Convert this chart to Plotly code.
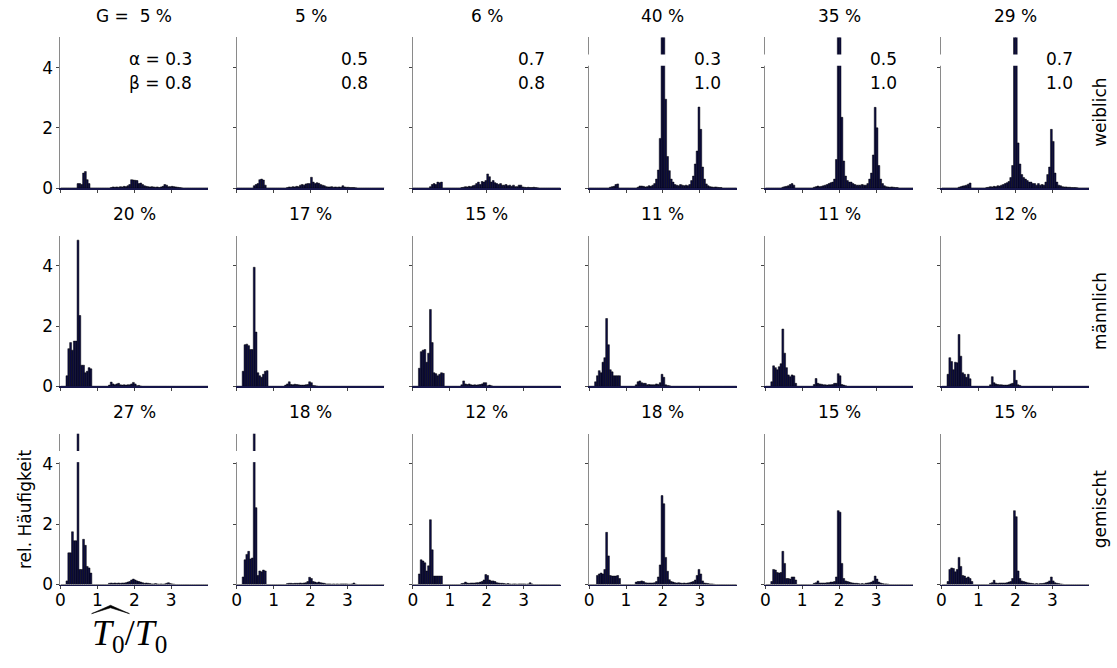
import plotly.graph_objects as go

W, H = 1117, 668

# ---------------- data ----------------
BIN_WIDTH = 0.05
BIN_LEFT = [round(0.05 * k, 2) for k in range(80)]   # histogram bin left edges, 0 ... 3.95

ROW_LABELS = ["weiblich", "männlich", "gemischt"]
ALPHA = ["0.3", "0.5", "0.7", "0.3", "0.5", "0.7"]
BETA = ["0.8", "0.8", "0.8", "1.0", "1.0", "1.0"]
G_PERCENT = [[5, 5, 6, 40, 35, 29],
             [20, 17, 15, 11, 11, 12],
             [27, 18, 12, 18, 15, 15]]
X_TICKS = [0, 1, 2, 3]
Y_TICKS = [0, 2, 4]
OVERFLOW = 8  # bars that leave the plotted range (axis break)

weib_a03_b08 = ([0]*9 + [.15, .15, .12, .5, .55, .28, .15] + [0]*4 +
                [0]*7 + [.02, .04, .03, .04, .03, .05, .04, .06, .05, .08, .12, .28, .27] +
                [.26, .25, .15, .17, .12, .08, .06, .05, .04, .05, .04, .03, .04, .02, .04, .06, .12, .1, .05, .05] +
                [.06, .05, .04, .03, .02, .01] + [0]*14)
weib_a05_b08 = ([0]*9 + [.08, .12, .15, .28, .3, .27, .1] + [0]*4 +
                [0]*7 + [.02, .04, .03, .05, .04, .06, .05, .1, .12, .1, .14, .15, .15] +
                [.36, .2, .15, .18, .16, .12, .1, .08, .05, .04, .04, .05, .03, .04, .03, .04, .03, .08, .04, .03] +
                [.03, .02, .02, .02, .01] + [0]*15)
weib_a07_b08 = ([0]*9 + [.05, .12, .15, .12, .2, .18, .2] + [0]*4 +
                [0]*6 + [.02, .03, .05, .04, .06, .05, .08, .1, .15, .2, .12, .22, .2, .25] +
                [.47, .38, .2, .25, .18, .15, .12, .15, .1, .1, .12, .08, .1, .06, .1, .05, .05, .1, .1, .04] +
                [.03, .02, .03, .02, .02, .03, .02, .01] + [0]*12)
weib_a03_b10 = ([0]*11 + [.03, .05, .06, .12, .14] + [0]*4 +
                [0]*6 + [.03, .07, .07, .06, .04, .05, .08, .06, .1, .15, .3, .6, 1.65, OVERFLOW] +
                [OVERFLOW, 2.95, 1.05, .58, .3, .2, .12, .1, .08, .12, .1, .08, .1, .08, .12, .25, .4, .8, 1.23, 2.69] +
                [1.95, .7, .3, .14, .08, .05, .04, .03, .04, .03, .02, .02] + [0]*8)
weib_a05_b10 = ([0]*9 + [.03, .05, .06, .08, .12, .15, .1] + [0]*4 +
                [0]*6 + [.03, .05, .07, .05, .06, .08, .1, .12, .15, .18, .2, .3, .95, OVERFLOW] +
                [OVERFLOW, 2.35, .9, .4, .25, .2, .2, .15, .12, .1, .1, .1, .12, .1, .1, .15, .3, .5, 1.1, 2.68] +
                [2.0, .75, .3, .15, .08, .05, .04, .03, .04, .03, .02, .02] + [0]*8)
weib_a07_b10 = ([0]*9 + [.03, .05, .07, .08, .1, .13, .17] + [0]*4 +
                [0]*4 + [.02, .03, .05, .04, .06, .05, .08, .07, .1, .12, .15, .18, .22, .35, .75, OVERFLOW] +
                [OVERFLOW, 1.5, .8, .45, .35, .3, .25, .2, .2, .15, .15, .1, .15, .1, .12, .1, .2, .45, .7, 1.95] +
                [1.55, .5, .2, .1, .08, .05, .04, .04, .03, .03, .02, .02, .02, .01] + [0]*6)

maen_a03_b08 = ([0]*3 + [.35, 1.25, 1.45, 1.2, 1.5, 1.5, 4.85, 2.35, .7, .7, .45, .5, .62, .58] + [0]*3 +
                [0]*6 + [.04, .14, .08, .05, .08, .1, .05, .04, .05, .04, .05, .05, .08, .13] +
                [.08, .02, .03, .01] + [0]*16 +
                [0]*20)
maen_a05_b08 = ([0]*3 + [.5, 1.38, 1.4, 1.35, 1.22, 1.22, 3.95, 1.8, .45, .35, .3, .4, .5, .52] + [0]*3 +
                [0]*6 + [.04, .08, .15, .06, .05, .07, .06, .05, .04, .04, .04, .05, .06, .15] +
                [.12, .03, .02, .01] + [0]*16 +
                [0]*20)
maen_a07_b08 = ([0]*3 + [.6, 1.15, 1.2, 1.22, .8, 1.1, 2.55, 1.45, .45, .42, .35, .4, .45, .43] + [0]*3 +
                [0]*6 + [.05, .18, .08, .06, .08, .05, .04, .05, .04, .05, .06, .08, .12, .12] +
                [.02, .04, .02] + [0]*17 +
                [0]*20)
maen_a03_b10 = ([0]*3 + [.15, .35, .52, .45, .8, .95, 2.25, 1.38, .55, .48, .35, .35, .35, .35] + [0]*3 +
                [0]*5 + [.05, .15, .18, .12, .1, .1, .05, .06, .05, .05, .05, .08, .06, .12, .4] +
                [.3, .05, .03, .02] + [0]*16 +
                [0]*20)
maen_a05_b10 = ([0]*3 + [.15, .68, .62, .55, .65, .75, 1.9, 1.1, .62, .38, .32, .38, .35, .1] + [0]*3 +
                [0]*6 + [.06, .26, .1, .08, .07, .05, .05, .04, .05, .05, .06, .1, .1, .42] +
                [.35, .06, .04, .02] + [0]*16 +
                [0]*20)
maen_a07_b10 = ([0]*3 + [.4, .95, .82, .55, .8, .78, 1.72, 1.0, .45, .4, .3, .4, .25] + [0]*4 +
                [0]*6 + [.05, .32, .12, .08, .06, .05, .05, .04, .04, .04, .05, .08, .1, .53] +
                [.2, .05, .03] + [0]*17 +
                [0]*20)

gem_a03_b08 = ([0]*3 + [.12, 1.05, 1.05, 1.75, 1.45, 1.45, OVERFLOW, .5, .5, 1.5, 1.3, .6, .55, .38] + [0]*3 +
               [0]*6 + [.04, .05, .04, .05, .04, .05, .04, .05, .05, .06, .08, .1, .15, .18] +
               [.15, .12, .1, .08, .06, .04, .05, .04, .03, .02, .02, .03, .02, .01, .02, .01, .02, .04, .06, .03] +
               [.02, .01] + [0]*18)
gem_a05_b08 = ([0]*3 + [.25, .82, 1.0, 1.1, .85, .88, OVERFLOW, 2.55, .3, .45, .42, .48, .45] + [0]*4 +
               [0]*7 + [.03, .04, .04, .03, .04, .04, .04, .05, .04, .05, .06, .1, .24] +
               [.2, .1, .08, .06, .08, .06, .05, .04, .02, .02, .02, .01, .02, .01, .02, .01, .02, .02, .02, .02] +
               [.01, .01, .02, .05, .01] + [0]*15)
gem_a07_b08 = ([0]*3 + [.35, .82, .78, .72, .45, .62, 2.15, 1.15, .28, .28, .28, .28, .28] + [0]*4 +
               [0]*6 + [.03, .04, .08, .05, .04, .05, .05, .05, .06, .06, .08, .1, .15, .33] +
               [.3, .15, .12, .12, .1, .06, .05, .04, .04, .03, .02, .03, .02, .01, .02, .02, .01, .02, .02, .02] +
               [.02, .01, .02, .06, .02] + [0]*15)
gem_a03_b10 = ([0]*4 + [.3, .35, .38, .35, .5, 1.73, .95, .3, .28, .28, .28, .3, .2] + [0]*3 +
               [0]*5 + [.08, .1, .1, .12, .1, .06, .05, .05, .05, .05, .06, .1, .25, .65, 2.95] +
               [2.68, .9, .44, .16, .1, .08, .06, .05, .06, .05, .04, .05, .04, .05, .06, .08, .1, .15, .3, .5] +
               [.35, .12, .05, .04, .03, .02, .02, .01] + [0]*12)
gem_a05_b10 = ([0]*3 + [.1, .5, .48, .4, .38, .4, 1.1, .7, .2, .2, .18, .25, .25, .15] + [0]*3 +
               [0]*6 + [.04, .06, .12, .05, .05, .05, .05, .06, .06, .08, .08, .1, .25, 2.45] +
               [2.4, .7, .2, .12, .1, .08, .06, .05, .04, .04, .03, .02, .03, .02, .04, .05, .06, .08, .12, .28] +
               [.18, .08, .05, .03, .02, .02, .01] + [0]*13)
gem_a07_b10 = ([0]*3 + [.1, .5, .55, .53, .42, .5, .9, .6, .3, .28, .22, .25, .2, .1] + [0]*3 +
               [0]*6 + [.04, .06, .14, .05, .04, .05, .05, .05, .05, .06, .08, .1, .2, 2.45] +
               [2.25, .45, .2, .12, .1, .08, .06, .05, .04, .03, .02, .03, .02, .03, .03, .04, .06, .08, .12, .25] +
               [.12, .06, .04, .03, .02, .01] + [0]*14)

PANELS = [[weib_a03_b08, weib_a05_b08, weib_a07_b08, weib_a03_b10, weib_a05_b10, weib_a07_b10],
          [maen_a03_b08, maen_a05_b08, maen_a07_b08, maen_a03_b10, maen_a05_b10, maen_a07_b10],
          [gem_a03_b08, gem_a05_b08, gem_a07_b08, gem_a03_b10, gem_a05_b10, gem_a07_b10]]

# ---------------- layout geometry (page pixels) ----------------
X0_PX, COL_STEP, PANEL_W = 55.7, 177.0, 148.4
Y0_PX, ROW_STEP, PANEL_H = 191.0, 201.2, 153.0
X_RANGE = [0, 4]
Y_RANGE = [0, 5]
BREAK = (4.06, 4.43)

BAR_FILL = "#0c0c44"
FONT = "DejaVu Sans, Liberation Sans, Arial, sans-serif"
FS = 17


def px(x):
    return x / W


def py(y):
    return 1 - y / H


fig = go.Figure()
annotations = []
shapes = []
layout = {}

for r in range(3):
    for c in range(6):
        n = r * 6 + c + 1
        xa = "x" if n == 1 else f"x{n}"
        ya = "y" if n == 1 else f"y{n}"
        left = X0_PX + c * COL_STEP
        bottom = Y0_PX + r * ROW_STEP
        top = bottom - PANEL_H
        vals = PANELS[r][c]
        fig.add_trace(go.Bar(
            x=[b + BIN_WIDTH / 2 for b in BIN_LEFT], y=vals, width=BIN_WIDTH,
            marker=dict(color=BAR_FILL, line=dict(color="black", width=0.5)),
            xaxis=xa, yaxis=ya, showlegend=False, hoverinfo="x+y"))
        layout["xaxis" if n == 1 else f"xaxis{n}"] = dict(
            domain=[px(left), px(left + PANEL_W)], range=X_RANGE, anchor=ya,
            showgrid=False, zeroline=False, showline=True, linecolor="#16164a", linewidth=1.5,
            tickmode="array", tickvals=X_TICKS, ticktext=[str(t) for t in X_TICKS],
            ticks="outside", ticklen=3, tickwidth=1, tickcolor="#444", ticklabelstandoff=-3,
            showticklabels=(r == 2), tickfont=dict(family=FONT, size=FS, color="black"),
            fixedrange=True)
        layout["yaxis" if n == 1 else f"yaxis{n}"] = dict(
            domain=[py(bottom), py(top)], range=Y_RANGE, anchor=xa,
            showgrid=False, zeroline=False, showline=True, linecolor="#8a8a8a", linewidth=1,
            tickmode="array", tickvals=Y_TICKS, ticktext=[str(t) for t in Y_TICKS],
            ticks="outside", ticklen=3, tickwidth=1, tickcolor="#444",
            showticklabels=(c == 0), tickfont=dict(family=FONT, size=FS, color="black"),
            fixedrange=True)

        # panel title
        g = G_PERCENT[r][c]
        title = ("G = \u00a0" + f"{g} %") if (r == 0 and c == 0) else f"{g} %"
        annotations.append(dict(x=px(left + PANEL_W / 2), y=py(top - 22), xref="paper", yref="paper",
                                text=title, showarrow=False, xanchor="center", yanchor="middle",
                                font=dict(family=FONT, size=FS, color="black")))
        # parameter labels (top row)
        if r == 0:
            t1 = f"\u03b1 = {ALPHA[c]}" if c == 0 else ALPHA[c]
            t2 = f"\u03b2 = {BETA[c]}" if c == 0 else BETA[c]
            for txt, yy in ((t1, 4.3), (t2, 3.48)):
                annotations.append(dict(x=3.62, y=yy, xref=xa, yref=ya, text=txt, showarrow=False,
                                        xanchor="right", yanchor="middle",
                                        font=dict(family=FONT, size=FS, color="black")))
        # axis break for bars beyond the range
        over = [BIN_LEFT[i] for i, v in enumerate(vals) if v > Y_RANGE[1]]
        if over:
            xr = max(over) + BIN_WIDTH + 0.03
            unit_x = PANEL_W / (X_RANGE[1] - X_RANGE[0])
            unit_y = PANEL_H / (Y_RANGE[1] - Y_RANGE[0])
            shapes.append(dict(type="rect", xref="paper", yref="paper", layer="above",
                               x0=px(left - 4), x1=px(left + xr * unit_x),
                               y0=py(bottom - BREAK[0] * unit_y), y1=py(bottom - BREAK[1] * unit_y),
                               fillcolor="white", line=dict(width=0)))

# row labels on the right
for r, lab in enumerate(ROW_LABELS):
    yc = Y0_PX + r * ROW_STEP - PANEL_H / 2
    annotations.append(dict(x=px(1100), y=py(yc), xref="paper", yref="paper", text=lab,
                            textangle=-90, showarrow=False, xanchor="center", yanchor="middle",
                            font=dict(family=FONT, size=FS, color="black")))

# y title
annotations.append(dict(x=px(20), y=py(Y0_PX + 2 * ROW_STEP - PANEL_H / 2), xref="paper", yref="paper",
                        text="rel. Häufigkeit", textangle=-90, showarrow=False,
                        xanchor="center", yanchor="middle",
                        font=dict(family=FONT, size=FS, color="black")))

# x title  (T-hat_0 / T_0)
annotations.append(dict(x=px(125), y=py(645), xref="paper", yref="paper",
                        text="<i>T</i><sub>0</sub>/<i>T</i><sub>0</sub>", showarrow=False,
                        xanchor="center", yanchor="middle",
                        font=dict(family="Liberation Serif, DejaVu Serif, serif", size=36, color="black")))
hat = [(87, 623), (106, 614.5), (125, 623), (106, 617)]
path = "M " + " L ".join(f"{px(a):.5f},{py(b):.5f}" for a, b in hat) + " Z"
shapes.append(dict(type="path", xref="paper", yref="paper", path=path,
                   fillcolor="black", line=dict(color="black", width=0.6), layer="above"))

fig.update_layout(
    width=W, height=H, margin=dict(l=0, r=0, t=0, b=0),
    paper_bgcolor="white", plot_bgcolor="white",
    bargap=0, showlegend=False, hovermode=False,
    annotations=annotations, shapes=shapes,
    font=dict(family=FONT, size=FS, color="black"),
    **layout)

# remove the default page margin so the 1117 x 668 figure fills the window exactly
fig.write_html("out.html", config={"displayModeBar": False, "staticPlot": True},
               post_script="document.body.style.margin='0px';document.body.style.overflow='hidden';")
